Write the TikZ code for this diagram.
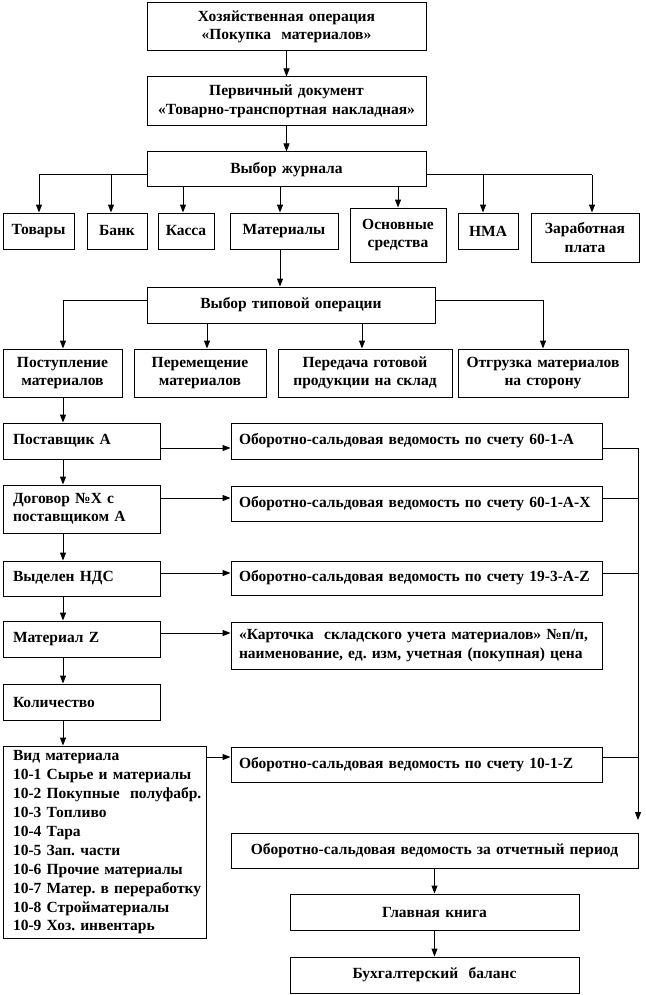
\documentclass[tikz,border=0pt]{standalone}
\usepackage{fontspec}
\setmainfont{Liberation Serif}
\usetikzlibrary{arrows.meta}
\frenchspacing
\tikzset{
  box/.style={draw, line width=1pt, inner sep=0pt, font=\bfseries\fontsize{15.5}{18.5}\selectfont\frenchspacing},
  arr/.style={line width=1pt, -{Triangle[width=6pt,length=8pt]}},
  ln/.style={line width=1pt},
}
\newcommand\bxC[6]{%
  \pgfmathsetmacro\myBW{#4-#2}\pgfmathsetmacro\myBH{#5-#3}\pgfmathsetmacro\myTW{#4-#2-8}%
  \node[box, minimum width=\myBW pt, minimum height=\myBH pt, text width=\myTW pt, align=center] (#1) at ({(#2+#4)/2},{(#3+#5)/2}) {#6};}
\newcommand\bxL[7]{%
  \pgfmathsetmacro\myBW{#4-#2}\pgfmathsetmacro\myBH{#5-#3}\pgfmathsetmacro\myTW{#4-#2-2*#6}%
  \node[box, minimum width=\myBW pt, minimum height=\myBH pt, text width=\myTW pt, align=left] (#1) at ({(#2+#4)/2},{(#3+#5)/2}) {#7};}
\begin{document}
\begin{tikzpicture}[x=1pt,y=-1pt]
\useasboundingbox (0,0) rectangle (645,995);
% top chain
\bxC{b1}{147}{3}{426}{51}{Хозяйственная операция\\«Покупка\ \ материалов»}
\bxC{b2}{147}{77}{426}{126}{Первичный документ\\«Товарно-транспортная накладная»}
\bxC{b3}{147}{152}{426}{187}{Выбор журнала}
% journals
\bxC{tov}{3}{213}{74}{249}{Товары}
\bxC{bank}{87}{213}{147}{249}{Банк}
\bxC{kas}{158}{213}{214}{249}{Касса}
\bxC{mat}{230}{213}{338}{249}{Материалы}
\bxC{os}{350}{208}{446}{262}{Основные\\средства}
\bxC{nma}{458}{213}{518}{249}{НМА}
\bxC{zp}{531}{213}{639}{262}{Заработная\\плата}
% typical operation
\bxC{typ}{147}{287}{435}{323}{Выбор типовой операции}
\bxC{post}{3}{349}{122}{397}{Поступление\\материалов}
\bxC{perem}{134}{349}{266}{397}{Перемещение\\материалов}
\bxC{pered}{278}{349}{452}{397}{Передача готовой\\продукции на склад}
\bxC{otgr}{458}{349}{628}{397}{Отгрузка материалов\\на сторону}
% left column
\bxL{l1}{3}{423}{160}{459}{10}{Поставщик А}
\bxL{l2}{3}{485}{160}{533}{10}{Договор №Х с\\поставщиком А}
\bxL{l3}{3}{561}{160}{596}{10}{Выделен НДС}
\bxL{l4}{3}{621}{160}{657}{10}{Материал Z}
\bxL{l5}{3}{684}{160}{720}{10}{Количество}
\bxL{l6}{3}{746}{206}{938}{10}{\fontsize{15.5}{19}\selectfont Вид материала\\\mbox{10-1 Сырье и материалы}\\\mbox{10-2 Покупные\ \ полуфабр.}\\10-3 Топливо\\10-4 Тара\\10-5 Зап. части\\\mbox{10-6 Прочие материалы}\\\mbox{10-7 Матер. в переработку}\\\mbox{10-8 Стройматериалы}\\\mbox{10-9 Хоз. инвентарь}}
% right column
\bxL{r1}{231}{423}{602}{459}{8}{\mbox{Оборотно-сальдовая ведомость по счету 60-1-А}}
\bxL{r2}{231}{486}{602}{521}{8}{\mbox{Оборотно-сальдовая ведомость по счету 60-1-А-Х}}
\bxL{r3}{231}{561}{602}{595}{8}{\mbox{Оборотно-сальдовая ведомость по счету 19-3-А-Z}}
\bxL{kart}{231}{622}{602}{669}{8}{\mbox{«Карточка\ \ складского\ учета материалов» №п/п,}\\\mbox{наименование, ед. изм, учетная (покупная) цена}}
\bxL{r5}{231}{747}{602}{782}{8}{\mbox{Оборотно-сальдовая ведомость по счету 10-1-Z}}
% bottom chain
\bxC{osv}{231}{833}{638}{868}{\mbox{Оборотно-сальдовая ведомость за отчетный период}}
\bxC{gk}{290}{894}{579}{930}{Главная книга}
\bxC{bb}{290}{957}{579}{993}{Бухгалтерский\ \ баланс}
% helper coordinates
\coordinate (jy) at (0,175);
\coordinate (xTov) at (39,0);
\coordinate (xBank) at (111,0);
\coordinate (xKas) at (183,0);
\coordinate (xMat) at (280,0);
\coordinate (xOs) at (398,0);
\coordinate (xNma) at (483,0);
\coordinate (xZp) at (592,0);
\coordinate (ty) at (0,300);
\coordinate (xPost) at (63,0);
\coordinate (xPer) at (207,0);
\coordinate (xPrd) at (362,0);
\coordinate (xOtg) at (543,0);
\coordinate (y1) at (0,448);
\coordinate (y2) at (0,498);
\coordinate (y3) at (0,573);
\coordinate (y4) at (0,633);
\coordinate (y6) at (0,757);
\coordinate (xR) at (638,0);
\coordinate (endR) at (638,820);
% connectors
\draw[arr] (b1.south) -- (b2.north);
\draw[arr] (b2.south) -- (b3.north);
\draw[ln] (b3.west |- jy) -- (xTov |- jy);
\draw[arr] (xTov |- jy) -- (tov.north -| xTov);
\draw[arr] (xBank |- jy) -- (bank.north -| xBank);
\draw[arr] (b3.south -| xKas) -- (kas.north -| xKas);
\draw[arr] (b3.south -| xMat) -- (mat.north -| xMat);
\draw[arr] (b3.south -| xOs) -- (os.north -| xOs);
\draw[ln] (b3.east |- jy) -- (xZp |- jy);
\draw[arr] (xNma |- jy) -- (nma.north -| xNma);
\draw[arr] (xZp |- jy) -- (zp.north -| xZp);
\draw[arr] (mat.south -| xMat) -- (typ.north -| xMat);
\draw[ln] (typ.west |- ty) -- (xPost |- ty);
\draw[arr] (xPost |- ty) -- (post.north -| xPost);
\draw[arr] (typ.south -| xPer) -- (perem.north -| xPer);
\draw[arr] (typ.south -| xPrd) -- (pered.north -| xPrd);
\draw[ln] (typ.east |- ty) -- (xOtg |- ty);
\draw[arr] (xOtg |- ty) -- (otgr.north -| xOtg);
\draw[arr] (post.south -| xPost) -- (l1.north -| xPost);
\draw[arr] (l1.south -| xPost) -- (l2.north -| xPost);
\draw[arr] (l2.south -| xPost) -- (l3.north -| xPost);
\draw[arr] (l3.south -| xPost) -- (l4.north -| xPost);
\draw[arr] (l4.south -| xPost) -- (l5.north -| xPost);
\draw[arr] (l5.south -| xPost) -- (l6.north -| xPost);
\draw[arr] (l1.east |- y1) -- (r1.west |- y1);
\draw[arr] (l2.east |- y2) -- (r2.west |- y2);
\draw[arr] (l3.east |- y3) -- (r3.west |- y3);
\draw[arr] (l4.east |- y4) -- (kart.west |- y4);
\draw[arr] (l6.east |- y6) -- (r5.west |- y6);
\draw[ln] (r1.east |- y1) -- (xR |- y1);
\draw[ln] (r2.east |- y2) -- (xR |- y2);
\draw[ln] (r3.east |- y3) -- (xR |- y3);
\draw[ln] (r5.east |- y6) -- (xR |- y6);
\draw[arr] (xR |- y1) -- (endR);
\draw[arr] (osv.south) -- (gk.north);
\draw[arr] (gk.south) -- (bb.north);
\end{tikzpicture}
\end{document}
